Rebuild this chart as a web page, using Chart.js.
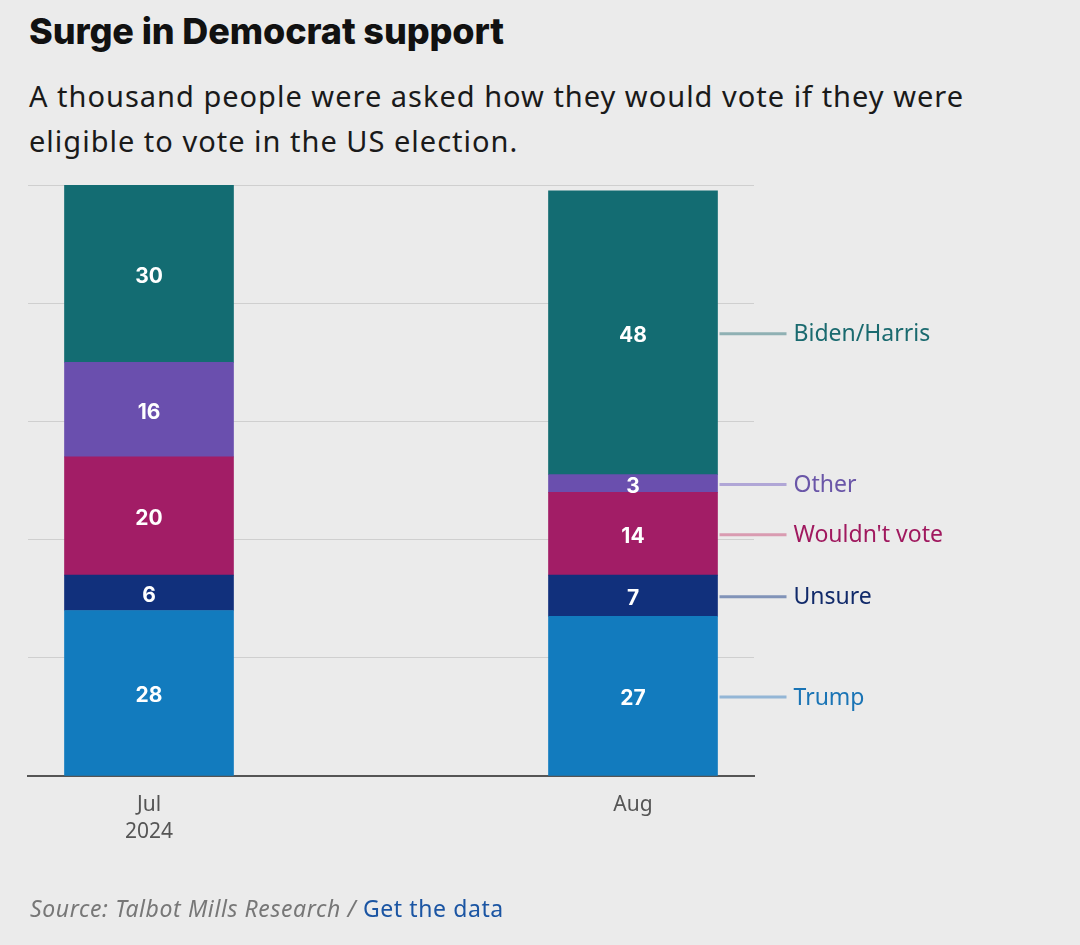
<!DOCTYPE html>
<html>
<head>
<meta charset="utf-8">
<script src="https://cdn.jsdelivr.net/npm/chart.js@4"></script>
<style>
  body { margin: 0; background: #ebebeb; }
  #wrap { position: relative; width: 1080px; height: 945px; overflow: hidden; }
  #title { position: absolute; left: 29px; top: 9px; font-family: Inter, sans-serif; font-weight: 800; font-size: 36px; color: #111; letter-spacing: -0.1px; }
  #sub { position: absolute; left: 29px; top: 73px; width: 1040px; font-family: "Noto Sans", sans-serif; font-size: 29px; line-height: 45px; color: #1a1a1a; letter-spacing: 1px; }
  #source { position: absolute; left: 30px; top: 892px; font-family: "Noto Sans", sans-serif; font-size: 23px; color: #777; letter-spacing: 0.6px; }
  #source i { font-style: italic; }
  #source span { color: #1b55a3; }
  canvas { position: absolute; left: 0; top: 0; }
</style>
</head>
<body>
<div id="wrap">
  <div id="title">Surge in Democrat support</div>
  <div id="sub">A thousand people were asked how they would vote if they were<br>eligible to vote in the US election.</div>
  <canvas id="myChart" width="1080" height="945"></canvas>
  <div id="source"><i>Source: Talbot Mills Research / </i><span>Get the data</span></div>
</div>
<script>
// months on the x axis (0 = Jul 2024, 1 = Aug)
const months = [["Jul", "2024"], "Aug"];
const series = ["Trump", "Unsure", "Wouldn't vote", "Other", "Biden/Harris"];
const trump = [28, 27];
const unsure = [6, 7];
const wouldntVote = [20, 14];
const other = [16, 3];
const bidenHarris = [30, 48];
const yTicks = [0, 20, 40, 60, 80, 100];

const barColors = ["#127bbe", "#11307c", "#a21d66", "#6a4fae", "#136c72"];
const textColors = ["#1a74b5", "#112a6a", "#a0195f", "#6a56a8", "#1a6a6f"];
const lineColors = ["#93b6d6", "#8193b8", "#d99bb1", "#b0a6d6", "#8fb0b3"];

const values = [trump, unsure, wouldntVote, other, bidenHarris];

const datasets = series.map((name, i) => ({
  label: name,
  data: values[i].map((v, j) => ({ x: j, y: v })),
  backgroundColor: barColors[i],
  borderWidth: 0,
  barThickness: 169,
}));

// chiffres blancs dans les barres + étiquettes à droite
const labelsPlugin = {
  id: "labelsPlugin",
  afterDatasetsDraw(chart) {
    const ctx = chart.ctx;
    ctx.save();
    ctx.textAlign = "center";
    ctx.textBaseline = "middle";
    ctx.font = "bold 21px Inter, sans-serif";
    ctx.fillStyle = "#fff";
    chart.data.datasets.forEach((ds, i) => {
      const meta = chart.getDatasetMeta(i);
      meta.data.forEach((bar, j) => {
        ctx.fillText(values[i][j], bar.x, (bar.y + bar.base) / 2 + 3);
      });
    });
    // labels for the last bar
    ctx.textAlign = "left";
    ctx.font = "23px 'Noto Sans', sans-serif";
    chart.data.datasets.forEach((ds, i) => {
      const bar = chart.getDatasetMeta(i).data[1];
      const y = (bar.y + bar.base) / 2;
      const x0 = bar.x + bar.width / 2 + 2;
      ctx.strokeStyle = lineColors[i];
      ctx.lineWidth = 3;
      ctx.beginPath();
      ctx.moveTo(x0, y + 1);
      ctx.lineTo(x0 + 67, y + 1);
      ctx.stroke();
      ctx.fillStyle = textColors[i];
      ctx.fillText(series[i], x0 + 74, y + 2);
    });
    ctx.restore();
  },
};

const ctx = document.getElementById("myChart").getContext("2d");
const myChart = new Chart(ctx, {
  type: "bar",
  data: { datasets: datasets },
  options: {
    responsive: false,
    animation: false,
    layout: { padding: { left: 28, right: 326, top: 185, bottom: 99 } },
    plugins: { legend: { display: false }, tooltip: { enabled: false } },
    scales: {
      x: {
        type: "linear",
        stacked: true,
        offset: false,
        min: -0.25,
        max: 1.25,
        grid: { display: false },
        border: { display: true, color: "#555", width: 2 },
        afterBuildTicks: (axis) => {
          axis.ticks = months.map((m, i) => ({ value: i }));
        },
        afterFit: (scale) => { scale.height = 70; },
        ticks: {
          padding: 7,
          color: "#555",
          font: { family: "'Noto Sans', sans-serif", size: 21, lineHeight: 1.3 },
          callback: (value) => months[value],
        },
      },
      y: {
        stacked: true,
        min: 0,
        max: 100,
        afterBuildTicks: (axis) => {
          axis.ticks = yTicks.map((v) => ({ value: v }));
        },
        afterFit: (scale) => { scale.width = 0; },
        grid: { color: "#cfcfcf", lineWidth: 1, drawTicks: false },
        border: { display: false },
        ticks: { display: false },
      },
    },
  },
  plugins: [labelsPlugin],
});
</script>
</body>
</html>
